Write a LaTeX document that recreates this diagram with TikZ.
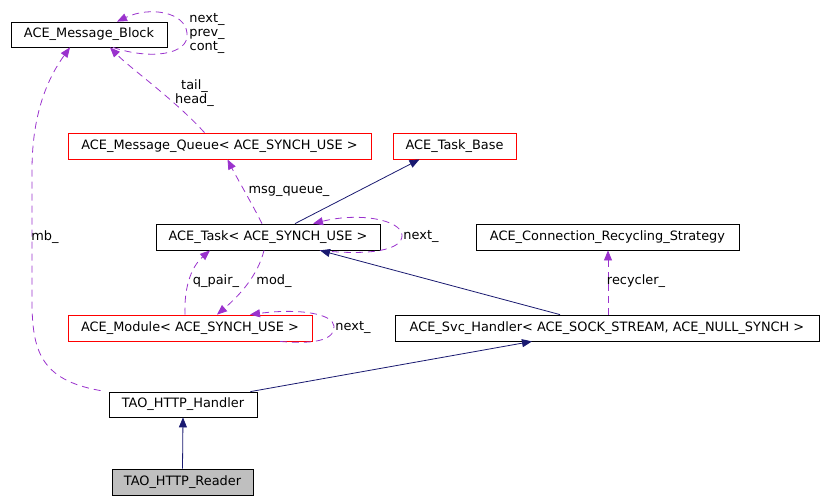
\documentclass[tikz,border=0pt]{standalone}
\usepackage{fontspec}
\setmainfont{DejaVu Sans}
\usetikzlibrary{arrows.meta,calc}
\definecolor{usecol}{HTML}{9A32CD}
\definecolor{inhcol}{HTML}{191970}
\definecolor{greyfill}{HTML}{BFBFBF}
\begin{document}
\begin{tikzpicture}[x=1pt,y=-1pt,
  lbl/.style={font=\fontsize{12.9}{14}\selectfont, inner sep=0pt, align=center},
  box/.style={draw=black, line width=0.8pt, inner sep=0pt, font=\fontsize{12.9}{14}\selectfont, anchor=center},
  redbox/.style={box, draw=red},
  greybox/.style={box, fill=greyfill},
  use/.style={draw=usecol, line width=0.8pt, dash pattern=on 7pt off 5pt, -{Triangle[length=10pt,width=8pt]}},
  inh/.style={draw=inhcol, line width=0.8pt, -{Triangle[length=10pt,width=8pt]}}
]
\useasboundingbox (0,0) rectangle (825,501);

\node[box, minimum width=156pt, minimum height=25pt] (MB) at (89,34.5) {ACE\_Message\_Block};
\node[redbox, minimum width=303pt, minimum height=26pt] (MQ) at (219.5,146) {ACE\_Message\_Queue< ACE\_SYNCH\_USE >};
\node[redbox, minimum width=123pt, minimum height=26pt] (TB) at (454.5,146) {ACE\_Task\_Base};
\node[box, minimum width=224pt, minimum height=26pt] (T) at (268,237) {ACE\_Task< ACE\_SYNCH\_USE >};
\node[box, minimum width=263pt, minimum height=26pt] (CRS) at (607.5,237) {ACE\_Connection\_Recycling\_Strategy};
\node[redbox, minimum width=244pt, minimum height=26pt] (M) at (190,328) {ACE\_Module< ACE\_SYNCH\_USE >};
\node[box, minimum width=424pt, minimum height=26pt] (S) at (607,328) {ACE\_Svc\_Handler< ACE\_SOCK\_STREAM, ACE\_NULL\_SYNCH >};
\node[box, minimum width=148pt, minimum height=25pt] (H) at (183,404.5) {TAO\_HTTP\_Handler};
\node[greybox, minimum width=141pt, minimum height=26pt] (R) at (182.5,482) {TAO\_HTTP\_Reader};

% self loop on Message_Block
\draw[use] ($(MB.south)+(24,0)$) .. controls (150,60) and (190,55) .. (187,33) .. controls (185,12) and (150,6) .. ($(MB.north)+(28,0)$);
\node[lbl] (lMB) at (207,33) {next\_\\prev\_\\cont\_};

% Message_Queue -> Message_Block
\draw[use] ($(MQ.north)+(-15,0)$) .. controls (175,100) and (130,68) .. ($(MB.south)+(21,0)$);
\node[lbl] (lMQ) at (194.5,93.5) {tail\_\\head\_};

% Handler -> Message_Block (mb_)
\draw[use] ($(H.north west)+(-8,-1)$) .. controls (40,380) and (32,350) .. (32,300) -- (32,170) .. controls (32,110) and (50,75) .. ($(MB.south)+(-19,0)$);
\node[lbl] (lmb) at (45,237) {mb\_};

% Task -> Message_Queue
\draw[use] ($(T.north)+(-6,0)$) .. controls (250,200) and (238,180) .. ($(MQ.south)+(8,0)$);
\node[lbl] (lmq) at (289,191) {msg\_queue\_};

% Task -> Task_Base
\draw[inh] ($(T.north)+(27,0)$) -- ($(TB.south)+(-35,0)$);

% Task self loop
\draw[use] ($(T.south)+(52,0)$) .. controls (370,256) and (403,250) .. (402,235) .. controls (401,220) and (360,212) .. ($(T.north)+(45,0)$);
\node[lbl] (lT) at (421,236) {next\_};

% Module -> Task (q_pair_)
\draw[use] ($(M.north)+(-5,0)$) .. controls (184,290) and (190,268) .. ($(T.south)+(-58,0)$);
\node[lbl] (lq) at (216,281) {q\_pair\_};

% Task -> Module (mod_)
\draw[use] ($(T.south)+(-4,0)$) .. controls (258,275) and (240,295) .. ($(M.north)+(27,0)$);
\node[lbl] (lmod) at (274,281) {mod\_};

% Module self loop
\draw[use] ($(M.south)+(90,0)$) .. controls (320,345) and (335,338) .. (334,326) .. controls (333,314) and (300,308) .. ($(M.north)+(60,0)$);
\node[lbl] (lM) at (353,327) {next\_};

% Svc_Handler -> Task
\draw[inh] ($(S.north)+(-47,0)$) -- ($(T.south)+(52,0)$);

% Svc_Handler -> Connection_Recycling_Strategy
\draw[use] ($(S.north)+(1,0)$) -- ($(CRS.south)+(0.5,0)$);
\node[lbl] (lrec) at (636,281) {recycler\_};

% Handler -> Svc_Handler
\draw[inh] ($(H.north east)+(-7,0)$) -- ($(S.south)+(-75,0)$);

% Reader -> Handler
\draw[inh] (R.north) -- (H.south);
\end{tikzpicture}
\end{document}
